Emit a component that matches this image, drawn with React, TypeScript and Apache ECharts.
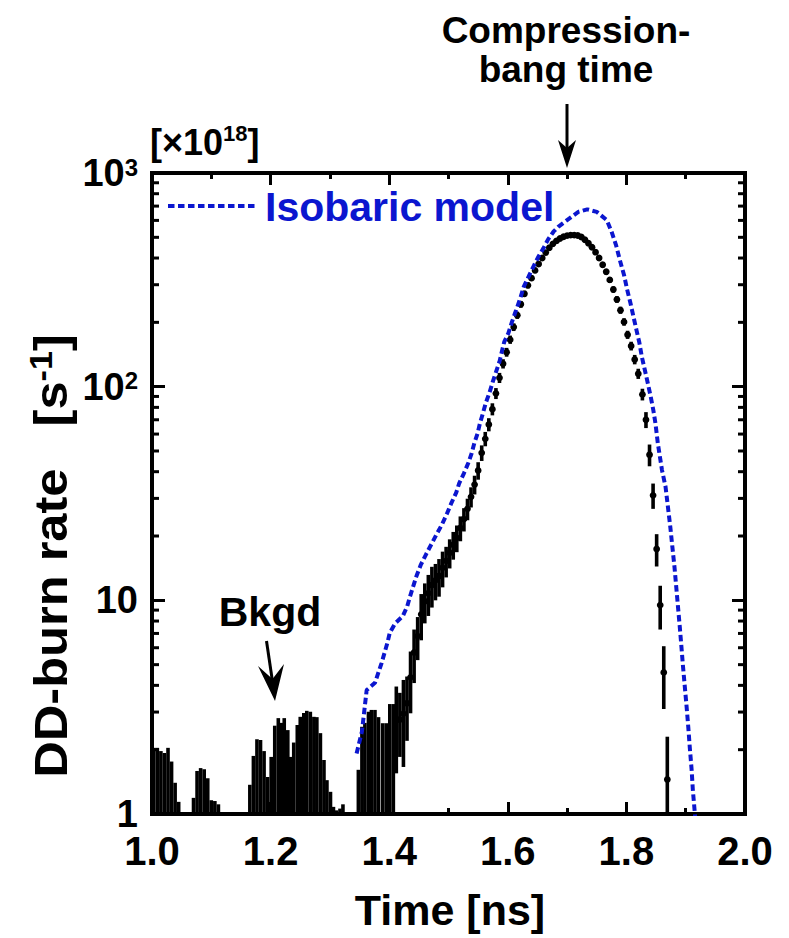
import React, { useEffect, useRef } from 'react';
import * as echarts from 'echarts';

// ---------- data ----------
// Background bins (upper end of the error bar; lower end lies below the axis)
const bkgTime = [
  1.003, 1.009, 1.015, 1.021, 1.027, 1.033, 1.039, 1.045,
  1.070, 1.076, 1.082, 1.088, 1.094, 1.100, 1.106, 1.112,
  1.165, 1.171, 1.177, 1.183, 1.189, 1.195, 1.201, 1.207, 1.213, 1.218, 1.223, 1.229,
  1.234, 1.239, 1.245, 1.250, 1.256, 1.261, 1.267, 1.273, 1.278, 1.284, 1.290, 1.295,
  1.301, 1.306, 1.311, 1.317, 1.322,
  1.348, 1.354, 1.359, 1.365, 1.370, 1.376, 1.382, 1.389, 1.395, 1.401, 1.407,
];
const bkgHigh = [
  2.04, 2.04, 1.97, 1.93, 2.04, 1.76, 1.40, 1.14,
  1.19, 1.59, 1.64, 1.62, 1.47, 1.16, 1.15, 1.11,
  1.37, 1.87, 2.24, 2.22, 1.97, 1.49, 1.85, 2.59, 2.81, 2.67, 2.81, 2.47,
  1.85, 2.16, 2.61, 2.85, 2.97, 3.04, 3.01, 2.85, 2.84, 2.39, 1.79, 1.44,
  1.27, 1.08, 1.04, 1.06, 1.11,
  1.61, 2.56, 2.67, 3.01, 3.07, 3.07, 2.84, 2.66, 2.66, 3.27, 3.27,
];

// Measured burn rate with error bars
const expTime = [
  1.412, 1.418, 1.424, 1.430, 1.436, 1.442, 1.448, 1.454, 1.460, 1.466, 1.472, 1.478,
  1.484, 1.490, 1.496, 1.502, 1.508, 1.514, 1.520, 1.526, 1.532, 1.538, 1.544, 1.550,
  1.556, 1.562, 1.568, 1.574, 1.580, 1.586, 1.592, 1.598, 1.604, 1.610, 1.616, 1.622,
  1.628, 1.634, 1.640, 1.646, 1.652, 1.658, 1.664, 1.670, 1.676, 1.682, 1.688, 1.694,
  1.700, 1.706, 1.712, 1.718, 1.724, 1.730, 1.736, 1.742, 1.748, 1.754, 1.760, 1.766,
  1.772, 1.778, 1.784, 1.790, 1.796, 1.802, 1.808, 1.814, 1.820, 1.827, 1.833, 1.839,
  1.845, 1.851, 1.857, 1.863, 1.869,
];
const expRate = [
  2.75, 2.77, 2.95, 3.3, 4.36, 5.7, 6.8, 8.6, 9.9, 10.8, 11.8, 12.4,
  13.0, 14.2, 15.3, 16.7, 18.2, 19.6, 21.8, 24.0, 26.8, 30.5, 34.8, 40.5,
  49.0, 57.0, 66.5, 78.5, 93.0, 110, 128, 145, 166, 190, 216, 243,
  272, 298, 322, 350, 375, 400, 424, 447, 466, 481, 494, 503,
  509, 512, 512, 510, 502, 487, 469, 449, 426, 400, 372, 345,
  316, 285, 256, 228, 201, 175, 155, 134, 115, 92, 70, 48,
  31, 17.4, 9.5, 4.6, 1.45,
];
const expErr = [
  1.2, 0.92, 1.29, 1.1, 1.4, 1.6, 1.55, 2.1, 2.1, 2.35, 2.55, 2.4,
  2.6, 2.7, 2.5, 2.6, 2.7, 2.8, 2.9, 3.0, 3.1, 3.3, 3.5, 3.8,
  4.1, 4.4, 4.7, 5.1, 5.5, 6.0, 6.4, 6.9, 7.4, 7.9, 8.4, 8.9,
  9.3, 9.7, 10.1, 10.5, 10.9, 11.3, 11.6, 11.9, 12.2, 12.4, 12.6, 12.7,
  12.8, 12.8, 12.8, 12.8, 12.7, 12.5, 12.3, 12.0, 11.7, 11.4, 11.0, 10.6,
  10.2, 9.7, 9.2, 8.8, 8.2, 7.7, 7.3, 6.8, 6.3, 5.8, 6.0, 5.6,
  4.2, 3.0, 2.2, 1.5, 0.85,
];

// Isobaric model curve
const modelTime = [
  1.345, 1.354, 1.362, 1.376, 1.387, 1.397, 1.401, 1.410, 1.423, 1.4305, 1.435, 1.446,
  1.453, 1.463, 1.472, 1.480, 1.4885, 1.497, 1.505, 1.513, 1.518, 1.526, 1.533, 1.539,
  1.5435, 1.549, 1.553, 1.558, 1.563, 1.569, 1.5745, 1.580, 1.586, 1.590, 1.594, 1.601,
  1.607, 1.614, 1.621, 1.627, 1.635, 1.643, 1.651, 1.660, 1.668, 1.677, 1.685, 1.700,
  1.719, 1.734, 1.750, 1.767, 1.775, 1.7825, 1.789, 1.796, 1.8015, 1.807, 1.812, 1.817,
  1.822, 1.826, 1.831, 1.836, 1.841, 1.8454, 1.849, 1.853, 1.860, 1.866, 1.870, 1.874,
  1.8775, 1.881, 1.884, 1.887, 1.890, 1.893, 1.8955, 1.8985, 1.9015, 1.9045, 1.907, 1.910,
  1.912, 1.915, 1.917,
];
const modelRate = [
  1.92, 2.43, 3.80, 4.11, 5.07, 6.33, 7.05, 7.80, 8.44, 9.40, 10.4, 13.0,
  14.6, 16.6, 18.5, 20.4, 22.5, 25.3, 28.6, 31.9, 35.3, 39.3, 43.7, 48.7,
  54.3, 60.4, 67.3, 75.0, 84.1, 93.6, 105, 117, 131, 146, 162, 178,
  201, 228, 259, 294, 327, 364, 403, 444, 489, 531, 560, 602,
  658, 676, 658, 602, 531, 460, 391, 333, 283, 245, 212, 184,
  160, 138, 120, 104, 89.7, 77.7, 67.3, 54.3, 40.7, 34.0, 27.4, 22.1,
  17.8, 14.4, 11.6, 9.33, 7.52, 5.96, 4.89, 3.94, 3.18, 2.52, 2.03, 1.61,
  1.30, 1.04, 0.9,
];

// Axis ticks and labels
const xTickValues = [1.0, 1.2, 1.4, 1.6, 1.8, 2.0];
const xTickLabels = ['1.0', '1.2', '1.4', '1.6', '1.8', '2.0'];
const yTickValues = [1, 10, 100, 1000];
const yTickLabels = ['{b|1}', '{b|10}', '{b|10}{s|2}', '{b|10}{s|3}'];
const yMinorTicks = [2, 3, 4, 5, 6, 7, 8, 9, 20, 30, 40, 50, 60, 70, 80, 90, 200, 300, 400, 500, 600, 700, 800, 900];

const FONT = '"Liberation Sans", Arial, Helvetica, sans-serif';
const BLUE = '#0b16cf';
const BLACK = '#000000';

export default function App() {
  const ref = useRef<HTMLDivElement>(null);

  useEffect(() => {
    if (!ref.current) return;
    const chart = echarts.init(ref.current, undefined, { renderer: 'svg' });

    const axisLine = { show: true, onZero: false, lineStyle: { color: BLACK, width: 4, cap: 'square' } };
    const xTick = { show: true, inside: true, length: 12, lineStyle: { color: BLACK, width: 3 } };
    const xMinor = { show: true, splitNumber: 2, length: 6, lineStyle: { color: BLACK, width: 3 } };
    const yTick = { show: true, inside: true, length: 13, lineStyle: { color: BLACK, width: 3 } };

    const xLabelFmt = (v: number) => {
      const i = xTickValues.findIndex((t) => Math.abs(t - v) < 1e-6);
      return i >= 0 ? xTickLabels[i] : '';
    };
    const yLabelFmt = (v: number) => {
      const i = yTickValues.findIndex((t) => Math.abs(t - v) < 1e-6 * t);
      return i >= 0 ? yTickLabels[i] : '';
    };

    const option: any = {
      animation: false,
      backgroundColor: '#ffffff',
      grid: { left: 152, top: 173, width: 593, height: 641, containLabel: false },
      xAxis: [
        {
          type: 'value', position: 'bottom', min: 1, max: 2, interval: 0.2,
          axisLine, axisTick: xTick, minorTick: xMinor,
          splitLine: { show: false }, minorSplitLine: { show: false },
          axisLabel: {
            formatter: xLabelFmt, fontSize: 40, fontWeight: 'bold', fontFamily: FONT,
            color: BLACK, margin: 17, lineHeight: 40,
          },
        },
        {
          type: 'value', position: 'top', min: 1, max: 2, interval: 0.2,
          axisLine, axisTick: xTick, minorTick: xMinor,
          splitLine: { show: false }, minorSplitLine: { show: false },
          axisLabel: { show: false },
        },
      ],
      yAxis: [
        {
          type: 'log', logBase: 10, min: 1, max: 1000, position: 'left',
          axisLine, axisTick: yTick, splitLine: { show: false },
          axisLabel: {
            formatter: yLabelFmt, margin: 14, color: BLACK,
            rich: {
              b: { fontSize: 38, fontWeight: 'bold', fontFamily: FONT, color: BLACK, lineHeight: 36 },
              s: { fontSize: 24, fontWeight: 'bold', fontFamily: FONT, color: BLACK, lineHeight: 18, verticalAlign: 'top' },
            },
          },
        },
        {
          type: 'log', logBase: 10, min: 1, max: 1000, position: 'right',
          axisLine, axisTick: yTick, splitLine: { show: false },
          axisLabel: { show: false },
        },
      ],
      series: [
        {
          name: 'yMinorTicks', type: 'custom', silent: true,
          data: yMinorTicks.map((v) => [1, v]),
          renderItem: (params: any, api: any) => {
            const cs = params.coordSys;
            const y = api.coord([1, api.value(1)])[1];
            return {
              type: 'group',
              children: [
                { type: 'line', shape: { x1: cs.x, y1: y, x2: cs.x + 7, y2: y }, style: { stroke: BLACK, lineWidth: 3 } },
                { type: 'line', shape: { x1: cs.x + cs.width - 7, y1: y, x2: cs.x + cs.width, y2: y }, style: { stroke: BLACK, lineWidth: 3 } },
              ],
            };
          },
        },
        {
          name: 'Background', type: 'custom', clip: true,
          data: bkgTime.map((t, i) => [t, bkgHigh[i]]),
          renderItem: (params: any, api: any) => {
            const cs = params.coordSys;
            const top = api.coord([api.value(0), api.value(1)]);
            const bottom = cs.y + cs.height;
            const w = 3.6;
            return {
              type: 'rect',
              shape: { x: top[0] - w / 2, y: top[1], width: w, height: bottom - top[1] },
              style: { fill: BLACK },
            };
          },
        },
        {
          name: 'Data', type: 'custom', clip: true,
          data: expTime.map((t, i) => [t, expRate[i], expErr[i]]),
          renderItem: (params: any, api: any) => {
            const cs = params.coordSys;
            const t = api.value(0), v = api.value(1), e = api.value(2);
            const hi = api.coord([t, v + e]);
            const c = api.coord([t, v]);
            const lo = v - e > 0 ? api.coord([t, v - e]) : [hi[0], cs.y + cs.height + 4];
            return {
              type: 'group',
              children: [
                { type: 'line', shape: { x1: hi[0], y1: hi[1], x2: lo[0], y2: lo[1] }, style: { stroke: BLACK, lineWidth: 3.6 } },
                { type: 'circle', shape: { cx: c[0], cy: c[1], r: 3.4 }, style: { fill: BLACK } },
              ],
            };
          },
        },
        {
          name: 'Isobaric model', type: 'line', showSymbol: false, clip: true, smooth: false,
          data: modelTime.map((t, i) => [t, modelRate[i]]),
          lineStyle: { color: BLUE, width: 4, type: [6.5, 3.5] },
          z: 5,
        },
      ],
      graphic: [
        // y-axis title
        {
          type: 'text', x: 51, y: 556, rotation: Math.PI / 2, scaleX: 1.1, scaleY: 1,
          style: {
            text: '{t|DD-burn rate   [s}{s|-1}{t|]}', align: 'center', verticalAlign: 'middle',
            rich: {
              t: { fontSize: 46, fontWeight: 'bold', fontFamily: FONT, fill: BLACK, lineHeight: 50 },
              s: { fontSize: 31, fontWeight: 'bold', fontFamily: FONT, fill: BLACK, lineHeight: 24, verticalAlign: 'top' },
            },
          },
        },
        // x-axis title
        {
          type: 'text', x: 450, y: 910,
          style: { text: 'Time [ns]', align: 'center', verticalAlign: 'middle', fontSize: 43, fontWeight: 'bold', fontFamily: FONT, fill: BLACK },
        },
        // unit
        {
          type: 'text', x: 150, y: 142,
          style: {
            text: '{t|[×10}{s|18}{t|]}', align: 'left', verticalAlign: 'middle',
            rich: {
              t: { fontSize: 36, fontWeight: 'bold', fontFamily: FONT, fill: BLACK, lineHeight: 40 },
              s: { fontSize: 22, fontWeight: 'bold', fontFamily: FONT, fill: BLACK, lineHeight: 18, verticalAlign: 'top' },
            },
          },
        },
        // compression-bang annotation
        {
          type: 'text', x: 566, y: 30,
          style: { text: 'Compression-', align: 'center', verticalAlign: 'middle', fontSize: 37, fontWeight: 'bold', fontFamily: FONT, fill: BLACK },
        },
        {
          type: 'text', x: 566, y: 69,
          style: { text: 'bang time', align: 'center', verticalAlign: 'middle', fontSize: 37, fontWeight: 'bold', fontFamily: FONT, fill: BLACK },
        },
        { type: 'line', shape: { x1: 567, y1: 104, x2: 567, y2: 152 }, style: { stroke: BLACK, lineWidth: 3 } },
        { type: 'polygon', shape: { points: [[567, 168], [558, 140], [567, 148], [576, 140]] }, style: { fill: BLACK } },
        // Bkgd annotation
        {
          type: 'text', x: 270, y: 612,
          style: { text: 'Bkgd', align: 'center', verticalAlign: 'middle', fontSize: 41, fontWeight: 'bold', fontFamily: FONT, fill: BLACK },
        },
        { type: 'line', shape: { x1: 266.5, y1: 641, x2: 273, y2: 685 }, style: { stroke: BLACK, lineWidth: 3 } },
        { type: 'polygon', shape: { points: [[275, 701], [258, 666], [272.5, 679], [284, 664]] }, style: { fill: BLACK } },
        // legend
        { type: 'line', shape: { x1: 168, y1: 206, x2: 256, y2: 206 }, style: { stroke: BLUE, lineWidth: 4, lineDash: [6.5, 3.5] } },
        {
          type: 'text', x: 265, y: 207,
          style: { text: 'Isobaric model', align: 'left', verticalAlign: 'middle', fontSize: 41, fontWeight: 'bold', fontFamily: FONT, fill: BLUE },
        },
      ],
    };

    chart.setOption(option);
    return () => chart.dispose();
  }, []);

  return (
    <div
      ref={ref}
      style={{ position: 'fixed', left: 0, top: 0, width: 789, height: 938, background: '#fff' }}
    />
  );
}
